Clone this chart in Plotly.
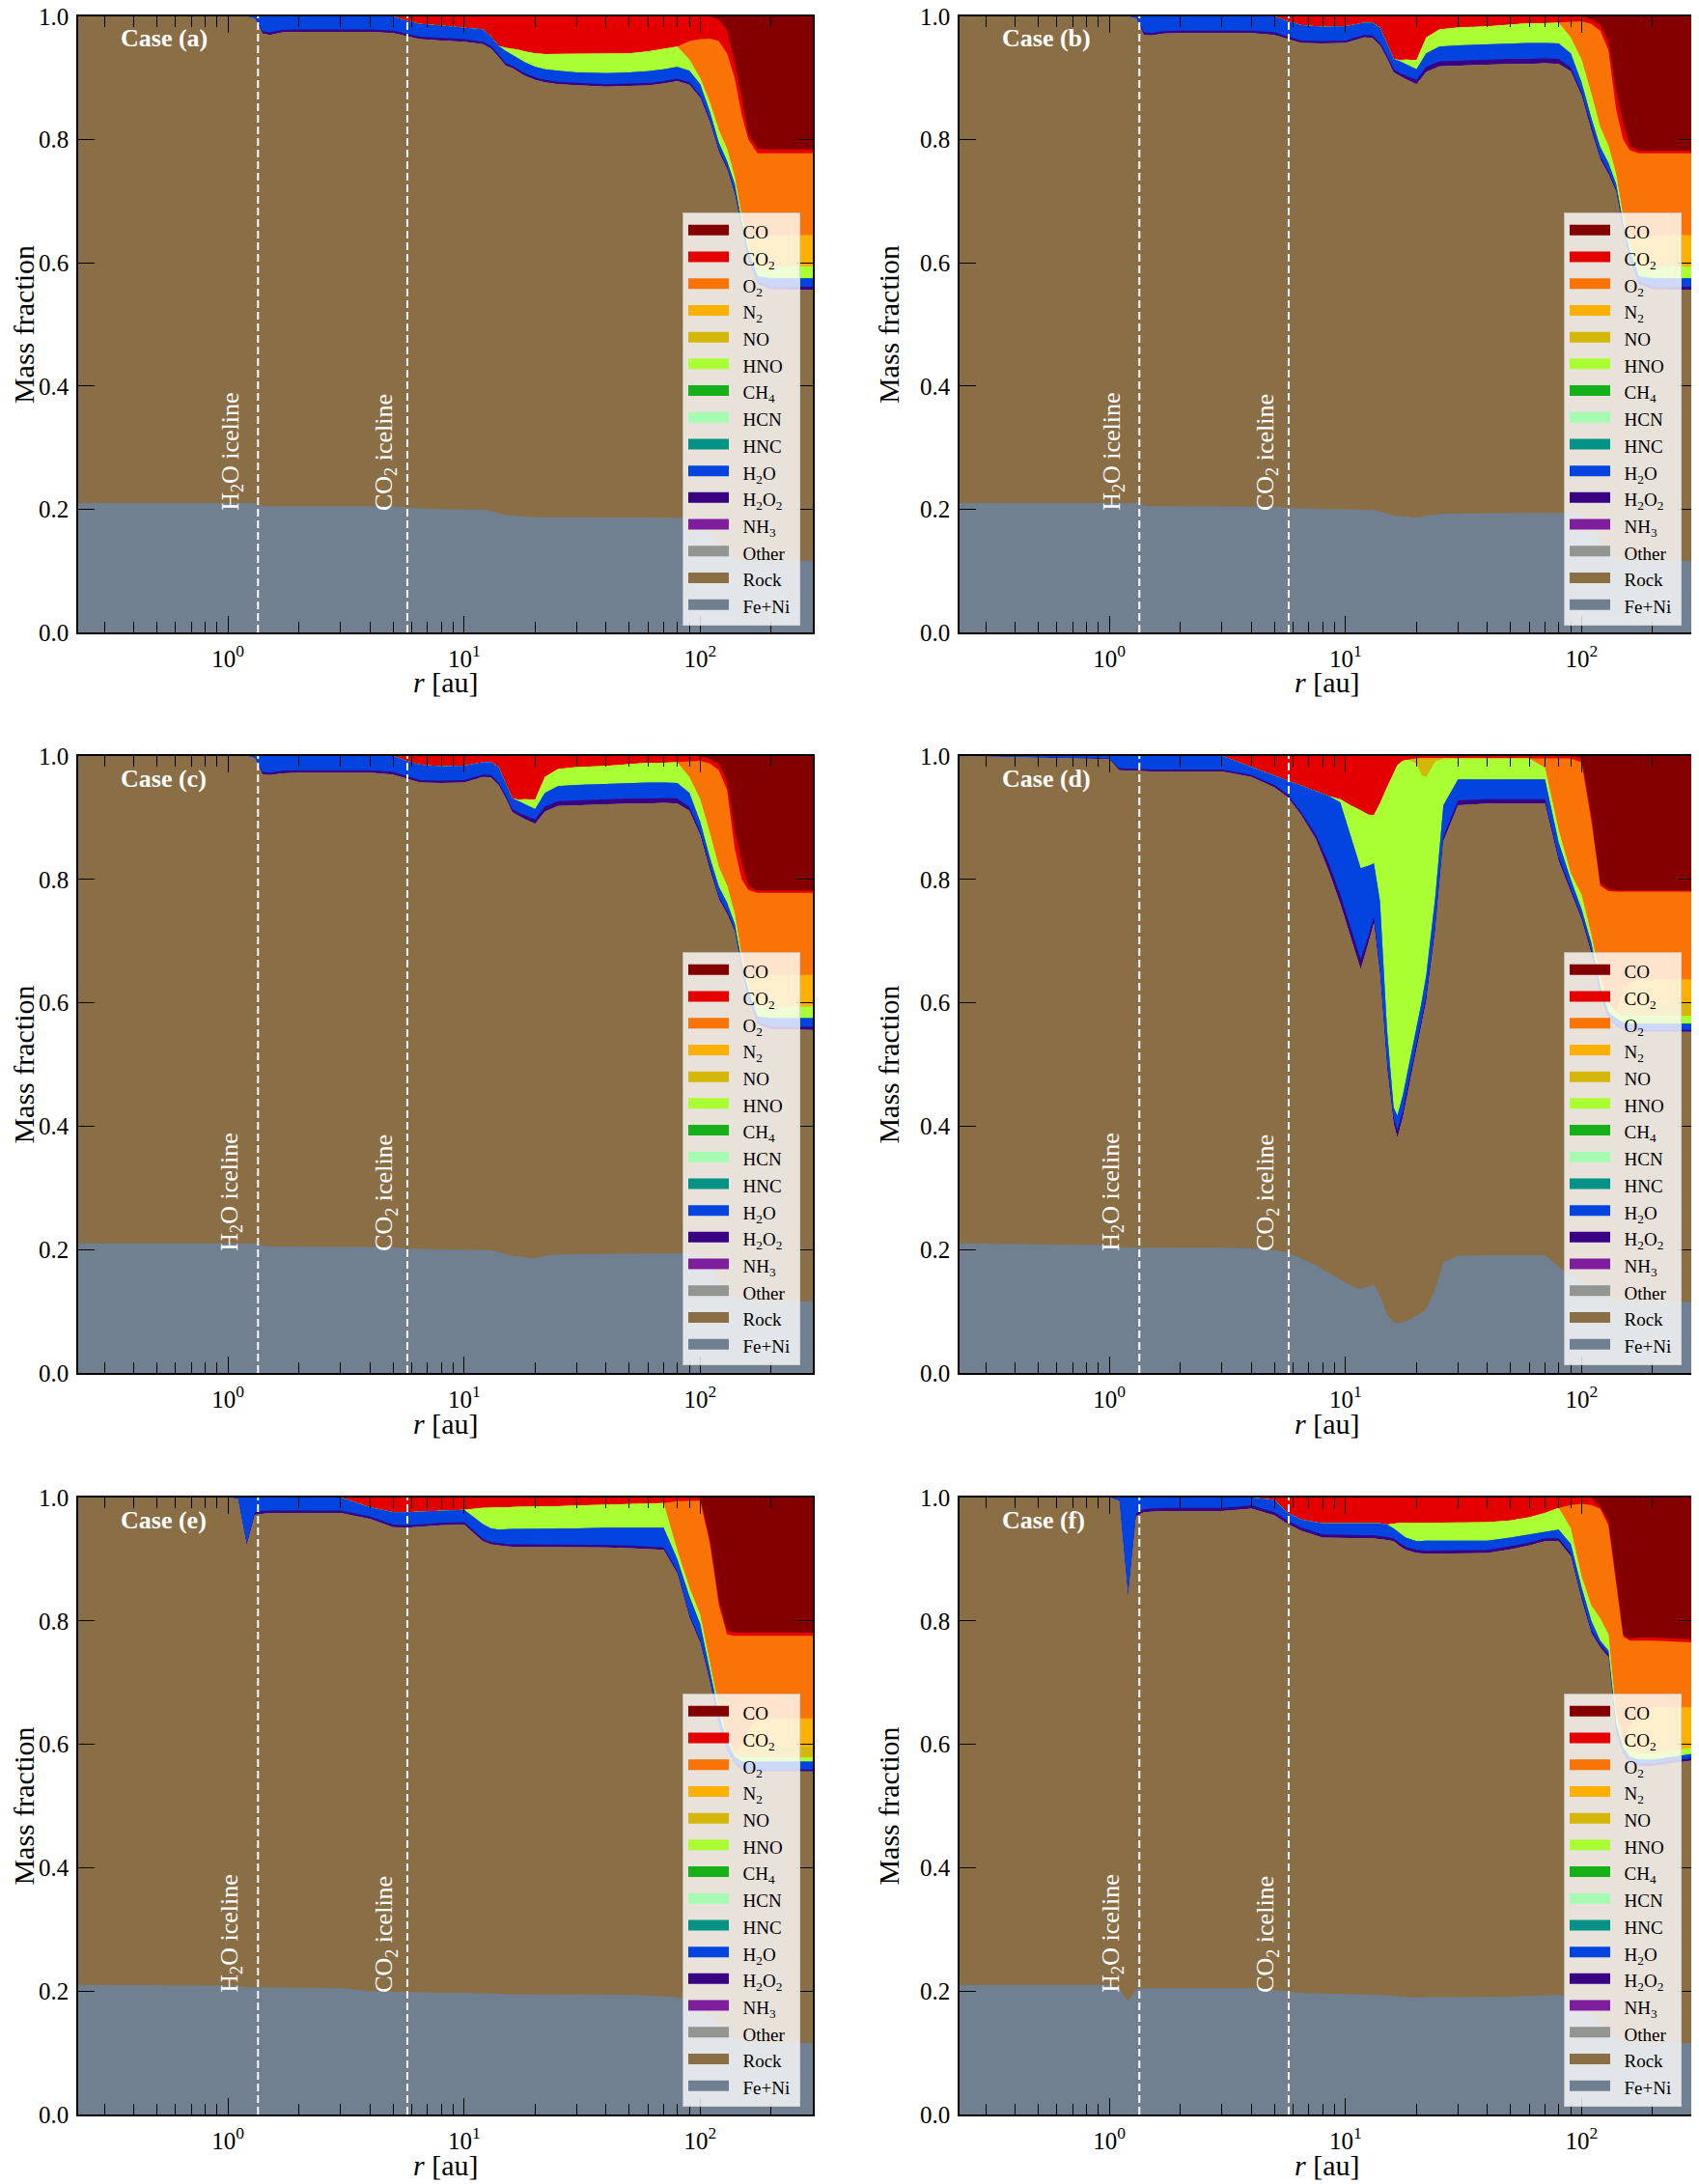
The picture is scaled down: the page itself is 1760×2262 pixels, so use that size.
import numpy as np
import plotly.graph_objects as go

_ = None  # band not present at that radius

# radii [au] at which the stacked profiles were read (cases a, b, c, e, f)
r_grid = [0.23, 1.0, 1.1, 1.2, 1.3, 1.4, 1.5, 1.7, 2, 3,
          4, 5, 5.7, 6.5, 8, 10, 12, 13, 14, 15,
          16, 17, 18, 20, 22, 25, 30, 40, 50, 60,
          70, 80, 90, 100, 110, 120, 130, 140, 150, 160,
          175, 200, 300]
# case (d) has sharper structure, so its own radii
r_d = [0.23, 1.0, 1.1, 1.5, 2, 3, 4, 5, 5.7, 6.5,
       7.5, 8.5, 9.5, 10.5, 11.6, 12.5, 13.2, 14, 15, 16,
       16.6, 17.5, 18.5, 20, 21, 22, 24, 26, 30, 40,
       50, 60, 70, 80, 90, 100, 110, 120, 130, 140,
       150, 160, 175, 200, 300]

ICE_H2O = 1.34
ICE_CO2 = 5.75

# upper edge of each stacked band (cumulative mass fraction)
# ---- case (a)
a_feni = [0.21, 0.21, 0.21, 0.21, 0.21, 0.205, 0.205, 0.205, 0.205, 0.205,
          0.205, 0.205, 0.203, 0.201, 0.200, 0.200, 0.199, 0.197, 0.193, 0.191,
          0.190, 0.189, 0.188, 0.187, 0.187, 0.187, 0.187, 0.187, 0.187, 0.187,
          0.187, 0.187, 0.187, 0.186, 0.168, 0.148, 0.132, 0.122, 0.118, 0.117,
          0.116, 0.116, 0.116]
a_rock = [1.0, 1.0, 1.0, 1.0, 0.997, 0.972, 0.970, 0.974, 0.975, 0.975,
          0.975, 0.973, 0.968, 0.963, 0.961, 0.959, 0.955, 0.948, 0.934, 0.920,
          0.916, 0.910, 0.904, 0.897, 0.893, 0.890, 0.888, 0.886, 0.887, 0.888,
          0.891, 0.895, 0.889, 0.868, 0.828, 0.780, 0.752, 0.712, 0.655, 0.605,
          0.565, 0.557, 0.556]
a_h2o2 = [1.0, 1.0, 1.0, 1.0, 0.998, 0.976, 0.974, 0.978, 0.979, 0.979,
          0.979, 0.977, 0.972, 0.967, 0.965, 0.963, 0.959, 0.952, 0.938, 0.924,
          0.920, 0.914, 0.908, 0.901, 0.897, 0.894, 0.892, 0.890, 0.891, 0.892,
          0.895, 0.899, 0.893, 0.872, 0.832, 0.784, 0.756, 0.716, 0.659, 0.609,
          0.569, 0.561, 0.561]
a_h2o = [1.0, 1.0, 1.0, 1.0, 1.0, 1.0, 1.0, 1.0, 1.0, 1.0,
         1.0, 1.0, 0.993, 0.988, 0.985, 0.982, 0.979, 0.967, 0.952, 0.944,
         0.938, 0.932, 0.926, 0.918, 0.914, 0.912, 0.909, 0.908, 0.909, 0.911,
         0.914, 0.918, 0.912, 0.890, 0.845, 0.795, 0.765, 0.728, 0.665, 0.620,
         0.578, 0.575, 0.575]
a_hno = [_, _, _, _, _, _, _, _, _, _,
         _, _, _, _, _, _, _, _, _, 0.949,
         0.948, 0.946, 0.943, 0.940, 0.939, 0.939, 0.939, 0.939, 0.940, 0.943,
         0.947, 0.951, 0.930, 0.900, 0.860, 0.815, 0.785, 0.740, 0.675, 0.632,
         0.594, 0.594, 0.594]
a_n2 = [_, _, _, _, _, _, _, _, _, _,
        _, _, _, _, _, _, _, _, _, _,
        _, _, _, _, _, _, _, _, _, _,
        _, _, _, _, _, _, _, _, _, 0.640,
        0.645, 0.645, 0.645]
a_o2 = [_, _, _, _, _, _, _, _, _, _,
        _, _, _, _, _, _, _, _, _, _,
        _, _, _, _, _, _, _, _, _, _,
        _, _, 0.960, 0.963, 0.964, 0.960, 0.940, 0.900, 0.840, 0.800,
        0.778, 0.778, 0.778]
a_co2 = [1.0, 1.0, 1.0, 1.0, 1.0, 1.0, 1.0, 1.0, 1.0, 1.0,
         1.0, 1.0, 1.0, 1.0, 1.0, 1.0, 1.0, 1.0, 1.0, 1.0,
         1.0, 1.0, 1.0, 1.0, 1.0, 1.0, 1.0, 1.0, 1.0, 1.0,
         1.0, 1.0, 1.0, 1.0, 1.0, 0.995, 0.978, 0.925, 0.870, 0.808,
         0.786, 0.784, 0.784]

# ---- cases (b) and (c): indistinguishable in the figure
c_feni = [0.21, 0.21, 0.21, 0.21, 0.21, 0.206, 0.205, 0.205, 0.205, 0.205,
          0.205, 0.204, 0.202, 0.201, 0.200, 0.200, 0.200, 0.199, 0.196, 0.193,
          0.190, 0.189, 0.188, 0.186, 0.190, 0.192, 0.193, 0.193, 0.193, 0.194,
          0.194, 0.194, 0.194, 0.192, 0.172, 0.150, 0.133, 0.122, 0.118, 0.117,
          0.116, 0.116, 0.116]
c_rock = [1.0, 1.0, 1.0, 1.0, 0.997, 0.970, 0.969, 0.972, 0.973, 0.973,
          0.973, 0.970, 0.963, 0.957, 0.956, 0.957, 0.966, 0.965, 0.953, 0.932,
          0.909, 0.903, 0.898, 0.890, 0.910, 0.919, 0.920, 0.922, 0.923, 0.923,
          0.924, 0.923, 0.911, 0.872, 0.815, 0.768, 0.744, 0.716, 0.653, 0.605,
          0.565, 0.557, 0.556]
c_h2o2 = [1.0, 1.0, 1.0, 1.0, 0.998, 0.974, 0.973, 0.976, 0.977, 0.977,
          0.977, 0.974, 0.967, 0.961, 0.960, 0.961, 0.970, 0.969, 0.957, 0.937,
          0.914, 0.908, 0.904, 0.897, 0.918, 0.927, 0.928, 0.930, 0.931, 0.931,
          0.932, 0.931, 0.917, 0.877, 0.820, 0.772, 0.748, 0.720, 0.657, 0.609,
          0.569, 0.561, 0.561]
c_h2o = [1.0, 1.0, 1.0, 1.0, 1.0, 1.0, 1.0, 1.0, 1.0, 1.0,
         1.0, 1.0, 0.992, 0.986, 0.983, 0.984, 0.990, 0.990, 0.982, 0.956,
         0.931, 0.927, 0.922, 0.914, 0.940, 0.951, 0.953, 0.955, 0.956, 0.957,
         0.957, 0.956, 0.940, 0.893, 0.835, 0.788, 0.762, 0.728, 0.665, 0.620,
         0.578, 0.575, 0.575]
c_hno = [_, _, _, _, _, _, _, _, _, _,
         _, _, _, _, _, _, _, _, _, _,
         _, 0.929, 0.930, 0.929, 0.966, 0.979, 0.982, 0.984, 0.987, 0.989,
         0.989, 0.990, 0.966, 0.930, 0.875, 0.820, 0.790, 0.745, 0.675, 0.632,
         0.594, 0.594, 0.594]
c_n2 = [_, _, _, _, _, _, _, _, _, _,
        _, _, _, _, _, _, _, _, _, _,
        _, _, _, _, _, _, _, _, _, _,
        _, _, _, _, _, _, _, _, _, 0.640,
        0.645, 0.645, 0.645]
c_o2 = [_, _, _, _, _, _, _, _, _, _,
        _, _, _, _, _, _, _, _, _, _,
        _, _, _, _, _, _, _, _, _, _,
        _, _, 0.992, 0.992, 0.988, 0.977, 0.945, 0.850, 0.800, 0.783,
        0.778, 0.778, 0.778]
c_co2 = [1.0, 1.0, 1.0, 1.0, 1.0, 1.0, 1.0, 1.0, 1.0, 1.0,
         1.0, 1.0, 1.0, 1.0, 1.0, 1.0, 1.0, 1.0, 1.0, 1.0,
         1.0, 1.0, 1.0, 1.0, 1.0, 1.0, 1.0, 1.0, 1.0, 1.0,
         1.0, 1.0, 1.0, 1.0, 0.995, 0.987, 0.960, 0.880, 0.830, 0.790,
         0.782, 0.782, 0.782]

# ---- case (d), on r_d
d_feni = [0.210, 0.207, 0.204, 0.203, 0.203, 0.203, 0.202, 0.199, 0.195, 0.186,
          0.175, 0.162, 0.152, 0.142, 0.136, 0.140, 0.143, 0.125, 0.095, 0.082,
          0.081, 0.082, 0.086, 0.093, 0.098, 0.105, 0.135, 0.180, 0.190, 0.191,
          0.191, 0.191, 0.191, 0.172, 0.158, 0.150, 0.140, 0.130, 0.122, 0.118,
          0.115, 0.115, 0.115, 0.115, 0.115]
d_rock = [1.0, 0.995, 0.977, 0.975, 0.975, 0.975, 0.966, 0.949, 0.933, 0.904,
          0.865, 0.813, 0.761, 0.709, 0.654, 0.696, 0.729, 0.645, 0.495, 0.404,
          0.381, 0.414, 0.459, 0.525, 0.564, 0.603, 0.715, 0.862, 0.920, 0.923,
          0.923, 0.923, 0.923, 0.830, 0.780, 0.735, 0.680, 0.610, 0.575, 0.562,
          0.556, 0.554, 0.553, 0.553, 0.553]
d_h2o2 = [1.0, 0.996, 0.980, 0.978, 0.978, 0.978, 0.969, 0.953, 0.937, 0.909,
          0.872, 0.826, 0.776, 0.724, 0.670, 0.708, 0.739, 0.655, 0.505, 0.414,
          0.394, 0.424, 0.468, 0.534, 0.573, 0.612, 0.724, 0.870, 0.928, 0.930,
          0.930, 0.930, 0.930, 0.836, 0.785, 0.740, 0.685, 0.615, 0.578, 0.565,
          0.558, 0.556, 0.556, 0.556, 0.556]
d_h2o = [1.0, 1.0, 1.0, 1.0, 1.0, 1.0, 0.982, 0.968, 0.960, 0.952,
         0.943, 0.935, 0.925, 0.870, 0.818, 0.822, 0.826, 0.765, 0.556, 0.430,
         0.417, 0.450, 0.495, 0.560, 0.600, 0.645, 0.770, 0.920, 0.962, 0.962,
         0.962, 0.962, 0.962, 0.860, 0.800, 0.752, 0.697, 0.627, 0.585, 0.575,
         0.568, 0.566, 0.566, 0.566, 0.566]
d_hno = [_, _, _, _, _, _, _, _, _, _,
         _, _, 0.930, 0.920, 0.912, 0.905, 0.904, 0.923, 0.949, 0.972,
         0.985, 0.992, 0.994, 0.988, 0.969, 0.966, 0.991, 0.996, 0.996, 0.996,
         0.996, 0.996, 0.981, 0.880, 0.810, 0.775, 0.710, 0.640, 0.600, 0.585,
         0.579, 0.579, 0.579, 0.579, 0.579]
d_no = [_, _, _, _, _, _, _, _, _, _,
        _, _, _, _, _, _, _, _, _, _,
        _, _, _, 0.996, 0.996, 0.996, 0.996, _, _, _,
        _, _, _, _, _, _, _, _, _, _,
        0.590, 0.595, 0.599, 0.599, 0.599]
d_n2 = [_, _, _, _, _, _, _, _, _, _,
        _, _, _, _, _, _, _, _, _, _,
        _, _, _, _, _, _, _, _, _, _,
        _, _, _, _, _, _, _, _, _, _,
        0.620, 0.632, 0.638, 0.638, 0.638]
d_o2 = [_, _, _, _, _, _, _, _, _, _,
        _, _, _, _, _, _, _, _, _, _,
        _, _, _, _, _, _, _, _, _, _,
        _, _, 0.996, 0.996, 0.996, 0.990, 0.895, 0.790, 0.781, 0.780,
        0.780, 0.780, 0.780, 0.780, 0.780]
d_co2 = [1.0, 1.0, 1.0, 1.0, 1.0, 1.0, 1.0, 1.0, 1.0, 1.0,
         1.0, 1.0, 1.0, 1.0, 1.0, 1.0, 1.0, 1.0, 1.0, 1.0,
         1.0, 1.0, 1.0, 1.0, 1.0, 1.0, 1.0, 1.0, 1.0, 1.0,
         1.0, 1.0, 1.0, 1.0, 1.0, 0.997, 0.904, 0.794, 0.785, 0.782,
         0.782, 0.782, 0.782, 0.782, 0.782]

# ---- case (e)
e_feni = [0.210, 0.210, 0.209, 0.206, 0.206, 0.206, 0.206, 0.206, 0.206, 0.205,
          0.200, 0.199, 0.198, 0.197, 0.197, 0.197, 0.197, 0.197, 0.196, 0.195,
          0.195, 0.195, 0.195, 0.195, 0.195, 0.195, 0.195, 0.195, 0.194, 0.193,
          0.192, 0.190, 0.185, 0.175, 0.160, 0.145, 0.132, 0.124, 0.120, 0.118,
          0.116, 0.116, 0.116]
e_rock = [1.0, 1.0, 0.998, 0.922, 0.972, 0.974, 0.975, 0.975, 0.975, 0.975,
          0.965, 0.952, 0.951, 0.953, 0.955, 0.956, 0.929, 0.924, 0.922, 0.921,
          0.920, 0.920, 0.920, 0.920, 0.920, 0.920, 0.920, 0.919, 0.918, 0.917,
          0.915, 0.877, 0.806, 0.765, 0.700, 0.630, 0.590, 0.568, 0.558, 0.556,
          0.556, 0.556, 0.556]
e_h2o2 = [1.0, 1.0, 0.999, 0.925, 0.976, 0.978, 0.979, 0.979, 0.979, 0.979,
          0.969, 0.956, 0.955, 0.957, 0.959, 0.960, 0.933, 0.928, 0.926, 0.925,
          0.924, 0.924, 0.924, 0.924, 0.924, 0.924, 0.924, 0.923, 0.922, 0.921,
          0.919, 0.881, 0.810, 0.769, 0.704, 0.634, 0.594, 0.572, 0.561, 0.559,
          0.559, 0.559, 0.559]
e_h2o = [1.0, 1.0, 1.0, 1.0, 1.0, 1.0, 1.0, 1.0, 1.0, 1.0,
         0.984, 0.976, 0.976, 0.977, 0.978, 0.980, 0.957, 0.950, 0.948, 0.949,
         0.949, 0.949, 0.949, 0.949, 0.949, 0.949, 0.950, 0.951, 0.951, 0.952,
         0.951, 0.900, 0.840, 0.795, 0.720, 0.650, 0.605, 0.580, 0.572, 0.572,
         0.572, 0.572, 0.572]
e_hno = [_, _, _, _, _, _, _, _, _, _,
         _, _, _, _, _, _, 0.983, 0.984, 0.984, 0.984,
         0.985, 0.985, 0.985, 0.985, 0.986, 0.986, 0.987, 0.988, 0.989, 0.990,
         0.991, 0.914, 0.854, 0.810, 0.730, 0.660, 0.610, 0.585, 0.579, 0.579,
         0.579, 0.579, 0.579]
e_no = [_, _, _, _, _, _, _, _, _, _,
        _, _, _, _, _, _, _, _, _, _,
        _, _, _, _, _, _, _, _, _, _,
        _, _, _, _, _, _, _, _, 0.583, 0.588,
        0.595, 0.595, 0.595]
e_n2 = [_, _, _, _, _, _, _, _, _, _,
        _, _, _, _, _, _, _, _, _, _,
        _, _, _, _, _, _, _, _, _, _,
        _, _, _, _, _, _, _, _, 0.600, 0.625,
        0.642, 0.642, 0.642]
e_o2 = [_, _, _, _, _, _, _, _, _, _,
        _, _, _, _, _, _, _, _, _, _,
        _, _, _, _, _, _, _, _, _, _,
        _, 0.994, 0.995, 0.995, 0.925, 0.826, 0.778, 0.776, 0.776, 0.776,
        0.776, 0.776, 0.776]
e_co2 = [1.0, 1.0, 1.0, 1.0, 1.0, 1.0, 1.0, 1.0, 1.0, 1.0,
         1.0, 1.0, 1.0, 1.0, 1.0, 1.0, 1.0, 1.0, 1.0, 1.0,
         1.0, 1.0, 1.0, 1.0, 1.0, 1.0, 1.0, 1.0, 1.0, 1.0,
         1.0, 1.0, 1.0, 1.0, 0.932, 0.834, 0.785, 0.781, 0.781, 0.781,
         0.781, 0.781, 0.781]

# ---- case (f)
f_feni = [0.210, 0.210, 0.205, 0.183, 0.203, 0.205, 0.205, 0.205, 0.205, 0.205,
          0.205, 0.202, 0.199, 0.197, 0.196, 0.195, 0.195, 0.195, 0.194, 0.193,
          0.192, 0.191, 0.190, 0.190, 0.190, 0.190, 0.190, 0.190, 0.191, 0.192,
          0.193, 0.194, 0.190, 0.180, 0.165, 0.148, 0.133, 0.124, 0.120, 0.118,
          0.116, 0.116, 0.116]
f_rock = [1.0, 1.0, 0.995, 0.838, 0.970, 0.976, 0.977, 0.978, 0.978, 0.978,
          0.982, 0.971, 0.957, 0.946, 0.935, 0.934, 0.934, 0.934, 0.933, 0.931,
          0.929, 0.921, 0.915, 0.910, 0.909, 0.909, 0.909, 0.910, 0.916, 0.922,
          0.929, 0.929, 0.905, 0.835, 0.780, 0.757, 0.741, 0.620, 0.585, 0.570,
          0.565, 0.565, 0.574]
f_h2o2 = [1.0, 1.0, 0.996, 0.842, 0.975, 0.981, 0.982, 0.983, 0.983, 0.983,
          0.987, 0.976, 0.962, 0.951, 0.940, 0.939, 0.939, 0.939, 0.938, 0.936,
          0.934, 0.926, 0.920, 0.915, 0.914, 0.914, 0.914, 0.915, 0.921, 0.927,
          0.934, 0.934, 0.910, 0.840, 0.785, 0.762, 0.746, 0.625, 0.590, 0.574,
          0.569, 0.569, 0.578]
f_h2o = [1.0, 1.0, 1.0, 1.0, 1.0, 1.0, 1.0, 1.0, 1.0, 1.0,
         1.0, 0.996, 0.975, 0.964, 0.958, 0.958, 0.958, 0.958, 0.958, 0.956,
         0.950, 0.942, 0.935, 0.929, 0.930, 0.930, 0.930, 0.930, 0.935, 0.940,
         0.944, 0.948, 0.925, 0.855, 0.800, 0.768, 0.752, 0.635, 0.595, 0.580,
         0.575, 0.575, 0.585]
f_hno = [_, _, _, _, _, _, _, _, _, _,
         _, _, _, _, _, _, _, _, _, _,
         0.958, 0.959, 0.959, 0.959, 0.959, 0.959, 0.959, 0.960, 0.963, 0.968,
         0.975, 0.983, 0.950, 0.872, 0.825, 0.804, 0.778, 0.650, 0.605, 0.590,
         0.585, 0.585, 0.595]
f_n2 = [_, _, _, _, _, _, _, _, _, _,
        _, _, _, _, _, _, _, _, _, _,
        _, _, _, _, _, _, _, _, _, _,
        _, _, _, _, _, _, _, _, _, 0.630,
        0.650, 0.660, 0.660]
f_o2 = [_, _, _, _, _, _, _, _, _, _,
        _, _, _, _, _, _, _, _, _, _,
        _, _, _, _, _, _, _, _, _, _,
        _, _, 0.988, 0.990, 0.988, 0.982, 0.955, 0.860, 0.775, 0.768,
        0.768, 0.768, 0.765]
f_co2 = [1.0, 1.0, 1.0, 1.0, 1.0, 1.0, 1.0, 1.0, 1.0, 1.0,
         1.0, 1.0, 1.0, 1.0, 1.0, 1.0, 1.0, 1.0, 1.0, 1.0,
         1.0, 1.0, 1.0, 1.0, 1.0, 1.0, 1.0, 1.0, 1.0, 1.0,
         1.0, 1.0, 1.0, 1.0, 1.0, 0.985, 0.962, 0.870, 0.778, 0.771,
         0.773, 0.773, 0.770]

# species, bottom of the stack first
SPECIES = [
    ("feni", "Fe+Ni", "#708090"),
    ("rock", "Rock", "#8a6e45"),
    ("other", "Other", "#929591"),
    ("nh3", "NH<sub>3</sub>", "#7e1e9c"),
    ("h2o2", "H<sub>2</sub>O<sub>2</sub>", "#380282"),
    ("h2o", "H<sub>2</sub>O", "#0343df"),
    ("hnc", "HNC", "#029386"),
    ("hcn", "HCN", "#a6fbb2"),
    ("ch4", "CH<sub>4</sub>", "#15b01a"),
    ("hno", "HNO", "#aaff32"),
    ("no", "NO", "#d5b60a"),
    ("n2", "N<sub>2</sub>", "#fcb001"),
    ("o2", "O<sub>2</sub>", "#f97306"),
    ("co2", "CO<sub>2</sub>", "#e50000"),
    ("co", "CO", "#840000"),
]

case_a = dict(feni=a_feni, rock=a_rock, h2o2=a_h2o2, h2o=a_h2o, hno=a_hno, n2=a_n2, o2=a_o2, co2=a_co2)
case_c = dict(feni=c_feni, rock=c_rock, h2o2=c_h2o2, h2o=c_h2o, hno=c_hno, n2=c_n2, o2=c_o2, co2=c_co2)
case_d = dict(feni=d_feni, rock=d_rock, h2o2=d_h2o2, h2o=d_h2o, hno=d_hno, no=d_no, n2=d_n2, o2=d_o2, co2=d_co2)
case_e = dict(feni=e_feni, rock=e_rock, h2o2=e_h2o2, h2o=e_h2o, hno=e_hno, no=e_no, n2=e_n2, o2=e_o2, co2=e_co2)
case_f = dict(feni=f_feni, rock=f_rock, h2o2=f_h2o2, h2o=f_h2o, hno=f_hno, n2=f_n2, o2=f_o2, co2=f_co2)

cases = [("a", r_grid, case_a), ("b", r_grid, case_c), ("c", r_grid, case_c),
         ("d", r_d, case_d), ("e", r_grid, case_e), ("f", r_grid, case_f)]


def stack_tops(bands, n):
    # fill absent bands with the edge below, CO closes the stack at 1
    prev = np.zeros(n)
    out = {}
    for key, _label, _color in SPECIES:
        if key == "co":
            top = np.ones(n)
        elif key in bands:
            top = np.array([p if v is None else v for v, p in zip(bands[key], prev)], dtype=float)
        else:
            top = prev.copy()
        top = np.maximum(top, prev)
        out[key] = top
        prev = top
    return out


# the page body puts the figure 8px in from the window corner
OFF = 8
W, H = 1760 - OFF, 2262 - OFF
FONT = "Liberation Serif"
col_px = [(81 - OFF, 842 - OFF), (994 - OFF, 1755 - OFF)]
row_px = [(17 - OFF, 655 - OFF), (783 - OFF, 1422 - OFF), (1551 - OFF, 2190 - OFF)]
minor_vals = [m * 10.0 ** e for e in (-1, 0, 1, 2) for m in range(2, 10)]

fig = go.Figure()
layout = dict(width=W, height=H, margin=dict(l=0, r=0, t=0, b=0, autoexpand=False),
              paper_bgcolor="white", plot_bgcolor="white",
              font=dict(family=FONT, color="black"), annotations=[])

for k, (label, r, bands) in enumerate(cases):
    row, col = divmod(k, 2)
    sfx = "" if k == 0 else str(k + 1)
    xa, ya = "x" + sfx, "y" + sfx
    x0, x1 = col_px[col]
    y0, y1 = row_px[row]

    tops = stack_tops(bands, len(r))
    # each band drawn as a fill down to zero, topmost first, so the stack has no seams
    for key, name, color in reversed(SPECIES):
        fig.add_trace(go.Scatter(x=r, y=tops[key], mode="lines", line=dict(width=0),
                                 fill="tozeroy", fillcolor=color, showlegend=False,
                                 hoverinfo="skip", xaxis=xa, yaxis=ya))
    for ice in (ICE_H2O, ICE_CO2):
        fig.add_trace(go.Scatter(x=[ice, ice], y=[0, 1], mode="lines",
                                 line=dict(color="white", width=2, dash="8px,4px"),
                                 showlegend=False, hoverinfo="skip", xaxis=xa, yaxis=ya))
    # legend swatches (en space in front keeps the matplotlib-like gap after the patch)
    for key, name, color in reversed(SPECIES):
        fig.add_trace(go.Scatter(x=[None], y=[None], mode="lines", fill="tozeroy",
                                 fillcolor=color, line=dict(color=color, width=10),
                                 name="\u2002" + name + "\u2009", legend="legend" + sfx,
                                 xaxis=xa, yaxis=ya))

    layout["xaxis" + sfx] = dict(
        domain=[x0 / W, x1 / W], anchor=ya, type="log", automargin=False,
        range=[np.log10(0.232), np.log10(300)],
        tickmode="array", tickvals=[1, 10, 100],
        ticktext=["10<sup>0</sup>", "10<sup>1</sup>", "10<sup>2</sup>"],
        ticks="inside", ticklen=17, tickwidth=1.2, tickcolor="black",
        minor=dict(tickmode="array", tickvals=minor_vals, ticks="inside",
                   ticklen=11, tickwidth=1, tickcolor="black", showgrid=False),
        showline=True, linecolor="black", linewidth=1.5, mirror="ticks",
        showgrid=False, zeroline=False, ticklabelstandoff=4,
        ticklabeloverflow="allow", tickfont=dict(family=FONT, size=25))
    layout["yaxis" + sfx] = dict(
        domain=[1 - y1 / H, 1 - y0 / H], anchor=xa, range=[0, 1], automargin=False,
        tickmode="linear", tick0=0, dtick=0.2, tickformat=".1f",
        ticks="inside", ticklen=17, tickwidth=1.2, tickcolor="black",
        showline=True, linecolor="black", linewidth=1.5, mirror="ticks",
        showgrid=False, zeroline=False, ticklabelstandoff=3,
        ticklabeloverflow="allow", tickfont=dict(family=FONT, size=25),
        title=dict(text="Mass fraction", font=dict(family=FONT, size=30), standoff=13))
    layout["legend" + sfx] = dict(
        x=(x0 + 626) / W, y=1 - (y0 + 203) / H, xanchor="left", yanchor="top",
        bgcolor="rgba(255,255,255,0.8)", bordercolor="rgba(204,204,204,0.8)",
        borderwidth=1, itemwidth=42, traceorder="normal",
        font=dict(family=FONT, size=19, color="black"))

    layout["annotations"].append(dict(
        text="<i>r</i> [au]", xref=xa + " domain", yref=ya + " domain",
        x=0.5, y=-52 / 638, xanchor="center", yanchor="middle", showarrow=False,
        font=dict(family=FONT, size=30)))
    layout["annotations"].append(dict(
        text="<b>Case (%s)</b>" % label, xref=xa + " domain", yref=ya + " domain",
        x=0.055, y=0.964, xanchor="left", yanchor="middle", showarrow=False,
        font=dict(family=FONT, size=26, color="white")))
    for ice, txt, shift in ((ICE_H2O, "H<sub>2</sub>O iceline", -28),
                            (ICE_CO2, "CO<sub>2</sub> iceline", -23)):
        layout["annotations"].append(dict(
            text=txt, xref=xa, yref=ya + " domain", x=np.log10(ice), xshift=shift,
            y=0.195, xanchor="center", yanchor="bottom", textangle=-90,
            showarrow=False, font=dict(family=FONT, size=26, color="white")))

fig.update_layout(**layout)
fig.write_html("out.html")
